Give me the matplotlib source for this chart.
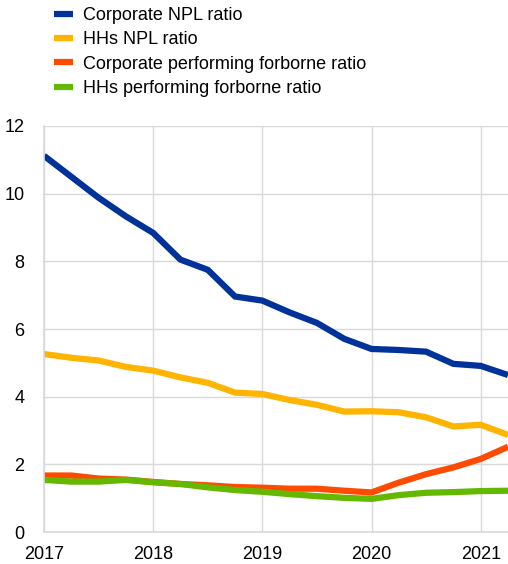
import matplotlib
matplotlib.use("Agg")
from matplotlib import pyplot as plt
import numpy as np

# quarterly observations, 2017 Q1 to 2021 Q2
years = [2017 + q * 0.25 for q in range(18)]

corp_npl = [11.12, 10.5, 9.88, 9.33, 8.84, 8.05, 7.75, 6.96, 6.84,
            6.49, 6.18, 5.71, 5.41, 5.38, 5.33, 4.97, 4.91, 4.64]
hh_npl = [5.26, 5.15, 5.07, 4.88, 4.77, 4.57, 4.41, 4.12, 4.08,
          3.9, 3.76, 3.56, 3.57, 3.54, 3.39, 3.12, 3.17, 2.87]
corp_forb = [1.67, 1.67, 1.58, 1.55, 1.48, 1.42, 1.38, 1.33, 1.31,
             1.28, 1.28, 1.22, 1.17, 1.46, 1.71, 1.91, 2.16, 2.52]
hh_forb = [1.54, 1.49, 1.49, 1.54, 1.47, 1.42, 1.32, 1.24, 1.19,
           1.12, 1.06, 1.01, 0.98, 1.09, 1.16, 1.18, 1.21, 1.22]

labels = ['Corporate NPL ratio', 'HHs NPL ratio',
          'Corporate performing forborne ratio', 'HHs performing forborne ratio']
colors = ['#003299', '#FFB400', '#FF4B00', '#65B800']

plt.rcParams['font.family'] = ['Liberation Sans', 'DejaVu Sans']

fig = plt.figure(figsize=(5.08, 5.64), dpi=100)
ax = fig.add_axes([0.0866, 0.0567, 0.9134, 0.7199])

series = [corp_npl, hh_npl, corp_forb, hh_forb]
handles = []
for vals, lab, col in zip(series, labels, colors):
    h, = ax.plot(years, vals, color=col, linewidth=4.5, label=lab,
                 solid_capstyle='butt', solid_joinstyle='miter')
    handles.append(h)

ax.set_xlim(2017, 2021.25)
ax.set_ylim(0, 12)
ax.set_xticks([2017, 2018, 2019, 2020, 2021])
ax.set_yticks(range(0, 13, 2))
ax.grid(True, color='#d9d9d9', linewidth=1)
ax.set_axisbelow(True)
for s in ['top', 'right']:
    ax.spines[s].set_visible(False)
for s in ['left', 'bottom']:
    ax.spines[s].set_color('#d9d9d9')
    ax.spines[s].set_linewidth(1.2)
ax.tick_params(length=0, labelsize=13, colors='#000000', pad=10)
ax.tick_params(axis='y', pad=14)

fig.legend(handles=handles, labels=labels, loc='upper left',
           bbox_to_anchor=(0.093, 1.0), frameon=False, fontsize=13,
           handlelength=1.0, handletextpad=0.6, labelspacing=0.4,
           borderaxespad=0)

fig.savefig('out.png', dpi=100)
